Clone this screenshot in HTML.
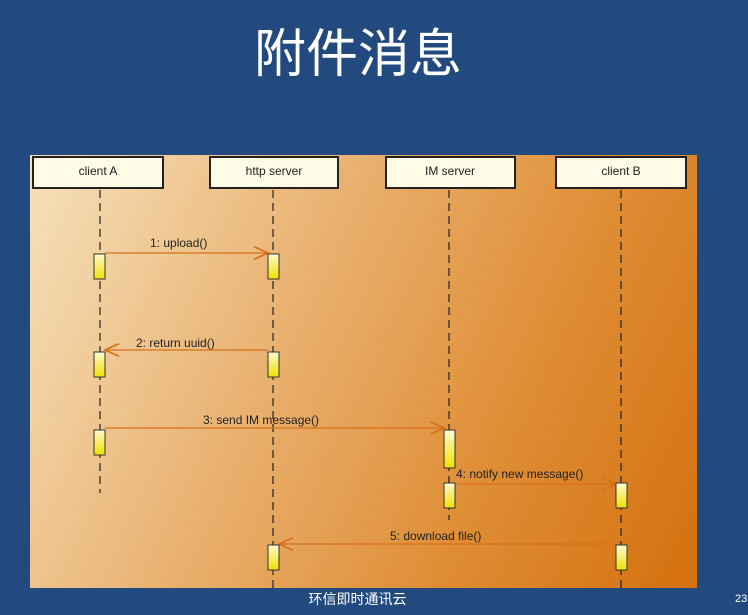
<!DOCTYPE html>
<html><head><meta charset="utf-8"><style>
body{margin:0;width:748px;height:615px;background:#224a7e;overflow:hidden;position:relative;font-family:"Liberation Sans","Noto Sans CJK SC",sans-serif}
.t{position:absolute;left:250px;width:216px;text-align:center;top:12px;color:#fff;font-size:52px;font-family:"Noto Sans CJK SC",sans-serif}
.d{position:absolute;left:30px;top:155px;width:667px;height:433px;background:linear-gradient(115deg,#f6e2bb 0%,#eab577 35%,#df8d34 70%,#d4700f 100%)}
.f{position:absolute;top:589px;left:300px;width:115px;text-align:center;color:#fff;font-size:14px;font-family:"Noto Sans CJK SC",sans-serif}
</style></head><body>
<div class="t">附件消息</div>
<div class="d"></div>
<svg width="748" height="615" style="position:absolute;left:0;top:0" font-family="Liberation Sans,sans-serif" font-size="12">
<defs><marker id="a" markerWidth="12" markerHeight="10" refX="11" refY="5" orient="auto"><path d="M0,0 L11,5 L0,10" fill="none" stroke="#d8701a" stroke-width="1.3"/></marker></defs>
<g fill="#fffbe6" stroke="#222" stroke-width="2">
<rect x="33" y="157" width="130" height="31"/><rect x="210" y="157" width="128" height="31"/><rect x="386" y="157" width="129" height="31"/><rect x="556" y="157" width="130" height="31"/>
</g>
<g text-anchor="middle" fill="#222"><text x="98" y="175">client A</text><text x="274" y="175">http server</text><text x="450" y="175">IM server</text><text x="621" y="175">client B</text></g>
<g stroke="#222" stroke-dasharray="8,5" stroke-width="1.2">
<line x1="100" y1="190" x2="100" y2="493"/><line x1="273" y1="190" x2="273" y2="588"/><line x1="449" y1="190" x2="449" y2="520"/><line x1="621" y1="190" x2="621" y2="588"/>
</g>
<g stroke="#d8701a" stroke-width="1.3" marker-end="url(#a)">
<line x1="105" y1="253" x2="268" y2="253"/><line x1="268" y1="350" x2="105" y2="350"/><line x1="105" y1="428" x2="444" y2="428"/><line x1="454" y1="484" x2="616" y2="484"/><line x1="616" y1="544" x2="279" y2="544"/>
</g>
<defs><linearGradient id="y" x1="0" y1="0" x2="0" y2="1"><stop offset="0" stop-color="#fffbd0"/><stop offset="1" stop-color="#f2e000"/></linearGradient></defs>
<g fill="url(#y)" stroke="#333" stroke-width="1">
<rect x="94" y="254" width="11" height="25"/><rect x="268" y="254" width="11" height="25"/>
<rect x="94" y="352" width="11" height="25"/><rect x="268" y="352" width="11" height="25"/>
<rect x="94" y="430" width="11" height="25"/><rect x="444" y="430" width="11" height="38"/>
<rect x="444" y="483" width="11" height="25"/><rect x="616" y="483" width="11" height="25"/>
<rect x="268" y="545" width="11" height="25"/><rect x="616" y="545" width="11" height="25"/>
</g>
<g fill="#222"><text x="150" y="247">1: upload()</text><text x="136" y="347">2: return uuid()</text><text x="203" y="424">3: send IM message()</text><text x="456" y="478">4: notify new message()</text><text x="390" y="540">5: download file()</text></g>
<text x="735" y="602" fill="#fff" font-size="11">23</text>
</svg>
<div class="f">环信即时通讯云</div>
</body></html>
